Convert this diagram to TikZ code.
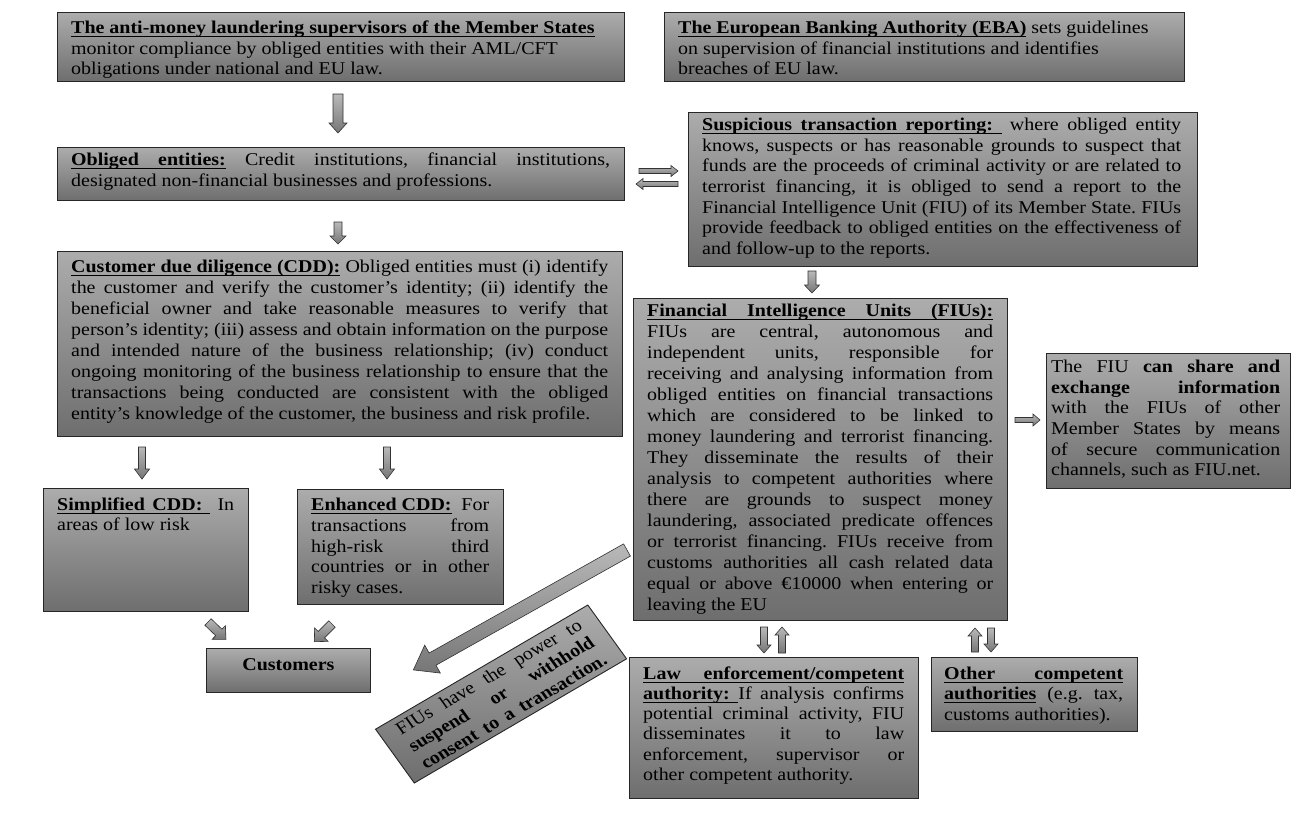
\documentclass[tikz,border=0pt]{standalone}
\usepackage{fontspec}
\setmainfont{Liberation Serif}[FakeStretch=1.11]
\newfontfamily\rawserif{Liberation Serif}
\usetikzlibrary{calc}
\definecolor{gtop}{RGB}{172,172,172}
\definecolor{gbot}{RGB}{110,110,110}
\definecolor{atop}{RGB}{185,185,185}
\definecolor{abot}{RGB}{118,118,118}
\newcommand\jl[1]{\hbox to\hsize{#1}}
\newcommand\rl[1]{\hbox to\hsize{#1\hfil}}
\newcommand\tb[3][20.7pt]{\vtop{\hsize=#2pt\baselineskip=#1\lineskiplimit=-\maxdimen\relax #3}}
\newcommand\uw[1]{\setbox0\hbox{#1}\rlap{\rule[-3.6pt]{\wd0}{1.1pt}}\box0}
\newcommand\us{\leaders\hrule height -2.5pt depth 3.6pt\hskip\fontdimen2\font plus\fontdimen3\font minus\fontdimen4\font\relax}
\newcommand\barr[6]{\begin{scope}[shift={(#1)},rotate=#2]
\draw[arrsty] (0,{-(#4)/2}) -- ({#3-#6},{-(#4)/2}) -- ({#3-#6},{-(#5)/2}) -- (#3,0) -- ({#3-#6},{(#5)/2}) -- ({#3-#6},{(#4)/2}) -- (0,{(#4)/2}) -- cycle;
\end{scope}}
\tikzset{
  boxsty/.style={draw=black!85, line width=0.9pt, top color=gtop, bottom color=gbot, inner sep=0pt, anchor=north west},
  txtsty/.style={inner sep=0pt, anchor=base west, text=black, font=\fontsize{18}{20.7}\selectfont\frenchspacing},
  arrsty/.style={draw=black!80, line width=0.6pt, top color=atop, bottom color=abot}
}
\begin{document}
\begin{tikzpicture}[x=1pt,y=-1pt]
\fill[white] (0,0) rectangle (1292,815);
\useasboundingbox (0,0) rectangle (1292,815);

% boxes
\node[boxsty, minimum width=567, minimum height=69] (aml) at (57,12) {};
\node[boxsty, minimum width=520, minimum height=69] (eba) at (664,12) {};
\node[boxsty, minimum width=567, minimum height=53] (obl) at (57,147) {};
\node[boxsty, minimum width=509, minimum height=154] (str) at (688,112) {};
\node[boxsty, minimum width=565, minimum height=185] (cdd) at (57,251) {};
\node[boxsty, minimum width=374, minimum height=322] (fiu) at (633,298) {};
\node[boxsty, minimum width=205, minimum height=123] (simp) at (43,488) {};
\node[boxsty, minimum width=206, minimum height=115] (enh) at (297,489) {};
\node[boxsty, minimum width=164, minimum height=44] (cust) at (206,648) {};
\node[boxsty, minimum width=289, minimum height=141] (law) at (629,657) {};
\node[boxsty, minimum width=206, minimum height=74] (oth) at (931,657) {};
\node[boxsty, minimum width=244, minimum height=135] (shr) at (1046,353) {};

% texts
\node[txtsty] (amlT) at ($(aml.north west)+(14,21.3)$) {\tb{539}{%
\rl{\bfseries\uw{The anti-money laundering supervisors of the Member States}}%
\rl{monitor compliance by obliged entities with their AML/CFT}%
\rl{obligations under national and EU law.}}};

\node[txtsty] (ebaT) at ($(eba.north west)+(14,21.3)$) {\tb{492}{%
\rl{{\bfseries\uw{The European Banking Authority (EBA)}} sets guidelines}%
\rl{on supervision of financial institutions and identifies}%
\rl{breaches of EU law.}}};

\node[txtsty] (oblT) at ($(obl.north west)+(14,18.3)$) {\tb{539}{%
\jl{{\bfseries\uw{Obliged}\us\uw{entities:}} Credit institutions, financial institutions,}%
\rl{designated non-financial businesses and professions.}}};

\node[txtsty] (strT) at ($(str.north west)+(14,18.7)$) {\tb[20.6pt]{479}{%
\jl{{\bfseries\uw{Suspicious}\us\uw{transaction}\us\uw{reporting:}\us} where obliged entity}%
\jl{knows, suspects or has reasonable grounds to suspect that}%
\jl{funds are the proceeds of criminal activity or are related to}%
\jl{terrorist financing, it is obliged to send a report to the}%
\jl{Financial Intelligence Unit (FIU) of its Member State. FIUs}%
\jl{provide feedback to obliged entities on the effectiveness of}%
\rl{and follow-up to the reports.}}};

\node[txtsty] (cddT) at ($(cdd.north west)+(14,21.7)$) {\tb[20.9pt]{537}{%
\jl{{\bfseries\uw{Customer due diligence (CDD):}} Obliged entities must (i) identify}%
\jl{the customer and verify the customer’s identity; (ii) identify the}%
\jl{beneficial owner and take reasonable measures to verify that}%
\jl{person’s identity; (iii) assess and obtain information on the purpose}%
\jl{and intended nature of the business relationship; (iv) conduct}%
\jl{ongoing monitoring of the business relationship to ensure that the}%
\jl{transactions being conducted are consistent with the obliged}%
\rl{entity’s knowledge of the customer, the business and risk profile.}}};

\node[txtsty] (fiuT) at ($(fiu.north west)+(14,18.7)$) {\tb[20.95pt]{346}{%
\jl{\bfseries\uw{Financial}\us\uw{Intelligence}\us\uw{Units}\us\uw{(FIUs):}}%
\jl{FIUs are central, autonomous and}%
\jl{independent units, responsible for}%
\jl{receiving and analysing information from}%
\jl{obliged entities on financial transactions}%
\jl{which are considered to be linked to}%
\jl{money laundering and terrorist financing.}%
\jl{They disseminate the results of their}%
\jl{analysis to competent authorities where}%
\jl{there are grounds to suspect money}%
\jl{laundering, associated predicate offences}%
\jl{or terrorist financing. FIUs receive from}%
\jl{customs authorities all cash related data}%
\jl{equal or above €10000 when entering or}%
\rl{leaving the EU}}};

\node[txtsty] (simpT) at ($(simp.north west)+(14,22)$) {\tb{177}{%
\jl{{\bfseries\uw{Simplified}\us\uw{CDD:}\us} In}%
\rl{areas of low risk}}};

\node[txtsty] (enhT) at ($(enh.north west)+(14,21.7)$) {\tb{178}{%
\jl{{\bfseries\uw{Enhanced CDD:}} For}%
\jl{transactions from}%
\jl{high-risk third}%
\jl{countries or in other}%
\rl{risky cases.}}};

\node[txtsty, anchor=base] (custT) at ($(cust.north)+(0,22)$) {\bfseries Customers};

\node[txtsty] (lawT) at ($(law.north west)+(14,22.3)$) {\tb[20.2pt]{261}{%
\jl{\bfseries\uw{Law}\us\uw{enforcement/competent}}%
\jl{{\bfseries\uw{authority:}\us}If analysis confirms}%
\jl{potential criminal activity, FIU}%
\jl{disseminates it to law}%
\jl{enforcement, supervisor or}%
\rl{other competent authority.}}};

\node[txtsty] (othT) at ($(oth.north west)+(13,22)$) {\tb{179}{%
\jl{\bfseries\uw{Other}\us\uw{competent}}%
\jl{{\bfseries\uw{authorities}} (e.g. tax,}%
\rl{customs authorities).}}};

\node[txtsty] (shrT) at ($(shr.north west)+(5,19.7)$) {\tb[20.6pt]{229}{%
\jl{The FIU {\bfseries can share and}}%
\jl{\bfseries exchange information}%
\jl{with the FIUs of other}%
\jl{Member States by means}%
\jl{of secure communication}%
\rl{channels, such as FIU.net.}}};

% rotated box
\begin{scope}[xscale=1.11]
\node[boxsty, anchor=center, rotate=33, transform shape, inner xsep=16pt, inner ysep=5pt,
  font=\rawserif\fontsize{18}{20.7}\selectfont, text=black] (rot) at (451.4,694) {\tb{196}{%
\jl{FIUs have the power to}%
\jl{\bfseries suspend or withhold}%
\jl{\bfseries consent to a transaction.}}};
\end{scope}

% block arrow anchors
\coordinate (a1) at (338,94);
\coordinate (a2) at (338,222);
\coordinate (ar) at (639,171);
\coordinate (al) at (678,184);
\coordinate (a3) at (812,271);
\coordinate (a4) at (142,447);
\coordinate (a5) at (387,447);
\coordinate (a6) at (208,622);
\coordinate (a7) at (332,624);
\coordinate (a8) at (627,550);
\coordinate (a9) at (1015,420);
\coordinate (a10) at (764,627);
\coordinate (a11) at (782,653);
\coordinate (a12) at (975,652);
\coordinate (a13) at (991,628);

\barr{a1}{-90}{39}{10}{18}{10}
\barr{a2}{-90}{22}{8}{16}{8}
\barr{ar}{0}{39}{5}{11}{7}
\barr{al}{180}{42}{5}{11}{7}
\barr{a3}{-90}{22}{8}{15}{8}
\barr{a4}{-90}{32}{7}{15}{10}
\barr{a5}{-90}{32}{7}{15}{10}
\barr{a6}{-44}{25}{9}{19}{10}
\barr{a7}{-135}{25}{9}{19}{10}
\barr{a8}{209.3}{245}{14}{32}{22}
\barr{a9}{0}{25}{5}{12}{7}
\barr{a10}{-90}{26}{7}{14}{8}
\barr{a11}{90}{26}{7}{14}{8}
\barr{a12}{90}{24}{7}{14}{8}
\barr{a13}{-90}{24}{7}{14}{8}
\end{tikzpicture}
\end{document}
